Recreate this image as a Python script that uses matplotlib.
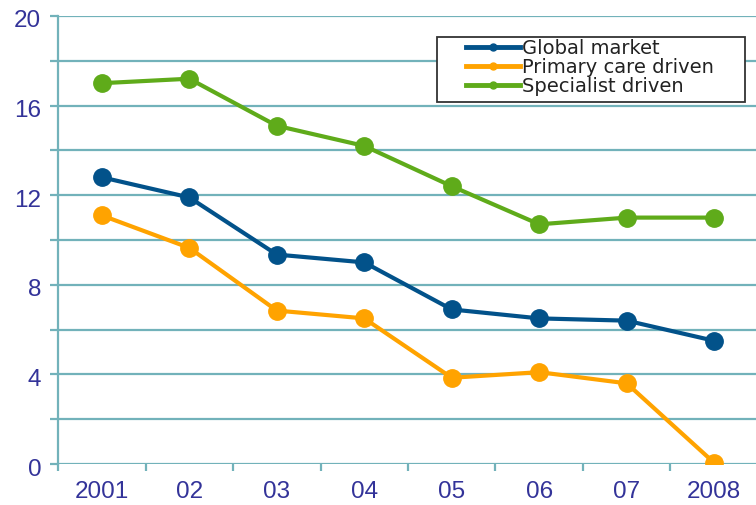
import numpy as np
import matplotlib.pyplot as plt
import matplotlib.transforms as mtransforms
from matplotlib.lines import Line2D
from matplotlib.patches import Rectangle

years = ["2001", "02", "03", "04", "05", "06", "07", "2008"]
global_market = [12.8, 11.9, 9.35, 9.0, 6.9, 6.5, 6.4, 5.5]
primary_care = [11.1, 9.65, 6.85, 6.5, 3.85, 4.1, 3.6, 0.05]
specialist = [17.0, 17.2, 15.1, 14.2, 12.4, 10.7, 11.0, 11.0]

c_blue = "#02528a"
c_orange = "#ffa300"
c_green = "#5fab1a"
c_grid = "#72b2ba"
c_text = "#333399"

W, H = 756, 505
fig = plt.figure(figsize=(W / 100, H / 100), dpi=100)
ax = fig.add_axes([58 / W, 41 / H, 700 / W, 448 / H])

x = np.arange(len(years))
for vals, col in [(global_market, c_blue), (primary_care, c_orange), (specialist, c_green)]:
    ax.plot(x, vals, color=col, lw=3.0, marker="o", ms=12.5, mec=col, zorder=3)

ax.set_xlim(-0.5, len(years) - 0.5)
ax.set_ylim(0, 20)

# gridlines every 2, labels every 4
ax.set_yticks(np.arange(0, 21, 2))
ax.set_yticklabels([str(v) if v % 4 == 0 else "" for v in range(0, 21, 2)])
ax.yaxis.grid(True, color=c_grid, lw=1.6)
ax.set_axisbelow(True)

# x ticks sit between categories, labels at centres
ax.set_xticks(np.arange(-0.5, len(years), 1.0))
ax.set_xticklabels([])
ax.set_xticks(x, minor=True)
ax.set_xticklabels(years, minor=True)
ax.tick_params(axis="x", which="minor", length=0, pad=12)
ax.tick_params(axis="x", which="major", length=5, width=1.6, color=c_grid)
ax.tick_params(axis="y", length=6, width=1.6, color=c_grid, pad=6)
ax.tick_params(which="both", labelcolor=c_text, labelsize=17.5)

# y labels sit a little below their gridlines
shift = mtransforms.ScaledTranslation(0, -3 / 100, fig.dpi_scale_trans)
for lab in ax.get_yticklabels():
    lab.set_fontfamily("Liberation Sans")
    lab.set_transform(lab.get_transform() + shift)
for lab in ax.get_xticklabels(minor=True):
    lab.set_fontfamily("Liberation Sans")

for s in ["top", "right", "bottom"]:
    ax.spines[s].set_visible(False)
ax.spines["left"].set_color(c_grid)
ax.spines["left"].set_linewidth(1.6)

# legend box
fig.patches.append(Rectangle((437 / W, 1 - 102 / H), 308 / W, 65 / H,
                             transform=fig.transFigure, fill=True, fc="white",
                             ec="#333333", lw=1.3, zorder=5))
handles = [Line2D([], [], color=c, lw=3.5, marker="o", ms=5) for c in (c_blue, c_orange, c_green)]
leg = fig.legend(handles, ["Global market", "Primary care driven", "Specialist driven"],
                 loc="upper left", bbox_to_anchor=(466 / W, 1 - 39 / H), frameon=False,
                 fontsize=14, handlelength=2.8, handletextpad=0.1, labelspacing=0.0,
                 borderpad=0, borderaxespad=0)
leg.set_zorder(6)
for t in leg.get_texts():
    t.set_color("#222222")

fig.savefig("out.png", dpi=100)
